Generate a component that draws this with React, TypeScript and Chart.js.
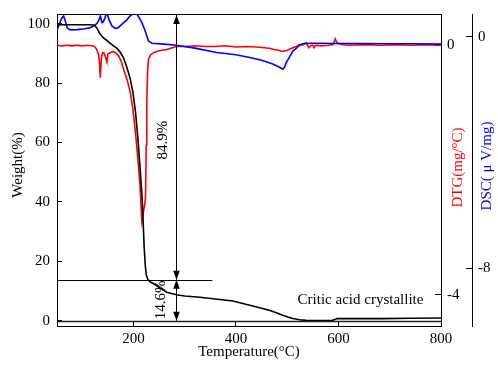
import React, { useEffect, useRef } from 'react';
import { Chart, registerables } from 'chart.js';

Chart.register(...registerables);

// ---- Data ----
const weightT = [51, 80, 110, 122, 126, 130, 135, 141, 148, 155, 162, 168, 174, 180, 185, 190, 194, 199, 204, 209, 213, 216, 218, 219.5, 221, 223, 225, 228, 233, 239, 250, 265, 284, 300, 330, 360, 394, 427, 450, 465, 480, 491, 501, 511, 524, 537, 560, 588, 593, 597, 620, 685, 740, 800];
const weightV = [99.7, 99.7, 99.7, 99.6, 99.2, 98.2, 96.6, 95.3, 94.4, 93.4, 92.5, 91.7, 90.5, 88.8, 86.5, 83.8, 81.3, 77.0, 70.5, 61.0, 51.7, 44.0, 38.0, 31.0, 24.8, 19.0, 15.5, 13.9, 13.0, 12.5, 11.2, 9.6, 8.7, 8.3, 7.9, 7.3, 6.6, 5.2, 4.2, 3.5, 2.6, 1.8, 1.2, 0.7, 0.3, 0.1, 0.05, 0.1, 0.4, 0.7, 0.7, 0.7, 0.8, 0.9];

const dtgT = [51, 60, 70, 80, 90, 100, 110, 118, 124, 128, 132, 134, 135.5, 137.5, 140, 143, 146, 148.5, 150, 155, 160, 165, 171, 176, 181, 188, 194, 199, 204, 208, 213, 216.5, 218, 220, 222, 223.6, 225, 226.2, 227.5, 229.4, 233, 239, 250, 265, 284, 300, 320, 340, 360, 380, 400, 420, 440, 455, 465, 475, 483, 491, 500, 511, 518, 524, 530, 537, 542, 547, 550, 552, 556, 565, 580, 590, 593.7, 597, 605, 620, 650, 680, 710, 740, 770, 800];
const dtgV = [0.0, -0.01, 0.0, -0.01, 0.0, -0.01, 0.0, -0.01, -0.02, -0.06, -0.15, -0.3, -0.52, -0.2, -0.12, -0.13, -0.2, -0.27, -0.14, -0.12, -0.1, -0.12, -0.17, -0.25, -0.39, -0.56, -0.76, -1.02, -1.4, -1.75, -2.26, -2.82, -2.75, -2.65, -2.55, -2.45, -1.6, -0.87, -0.45, -0.23, -0.16, -0.12, -0.09, -0.07, -0.02, -0.02, -0.01, -0.02, -0.02, -0.01, -0.03, -0.02, -0.03, -0.04, -0.05, -0.07, -0.08, -0.1, -0.08, -0.04, -0.02, 0.01, 0.0, 0.04, -0.04, 0.0, 0.0, -0.04, 0.0, -0.01, 0.0, 0.01, 0.1, 0.04, 0.01, 0.0, 0.01, 0.0, 0.01, 0.0, 0.01, 0.0];

const dscT = [51, 57, 61, 64, 67, 71, 77, 90, 105, 115, 122.5, 128, 132, 135.5, 138.7, 141, 144, 147, 149, 152, 158, 164.6, 170, 174, 181, 187, 193, 200, 206, 211, 216.5, 220, 223, 226, 229.5, 236, 260, 284, 320, 362, 400, 427, 450, 472, 484, 491.5, 495, 498, 503, 511, 517, 524, 530, 545, 560, 600, 650, 700, 750, 800];
const dscV = [0.22, 0.5, 0.65, 0.71, 0.55, 0.3, 0.23, 0.24, 0.27, 0.3, 0.37, 0.44, 0.54, 0.71, 0.48, 0.5, 0.62, 0.77, 0.8, 0.6, 0.37, 0.28, 0.3, 0.37, 0.48, 0.57, 0.7, 0.8, 0.8, 0.66, 0.48, 0.33, 0.19, 0.03, -0.15, -0.23, -0.26, -0.3, -0.4, -0.55, -0.63, -0.72, -0.82, -0.95, -1.05, -1.13, -1.05, -0.9, -0.75, -0.5, -0.42, -0.3, -0.25, -0.23, -0.23, -0.24, -0.24, -0.25, -0.25, -0.26];

const xTicks = [200, 400, 600, 800];
const weightTicks = [0, 20, 40, 60, 80, 100];
const dtgTicks = [-4, 0];
const dscTicks = [-8, 0];

const xRange = [51, 800];
const weightRange = [-1.8, 103.3];
const dtgRange = [-4.5, 0.5];
const dscRange = [-10, 0.78];

// reference lines (weight units)
const refLineX1 = [51, 51];
const refLineX2 = [800, 354];
const refLineY = [0, 13.8];

// double arrows at one temperature (weight units)
const arrowX = 284;
const arrowFrom = [13.8, 0];
const arrowTo = [103, 13.8];

// annotation texts
const noteText = ['84.9%', '14.6%', 'Critic acid crystallite'];
const noteX = [258.5, 253.6, 643];
const noteY = [60.8, 7.0, 7.0];
const noteRot = [-90, -90, 0];

const FONT = "'Liberation Serif', 'Times New Roman', serif";

function pts(t: number[], v: number[]) {
  return t.map((x, i) => ({ x, y: v[i] }));
}

function fixSize(w?: number, h?: number) {
  return (scale: any) => {
    if (w !== undefined) scale.width = w;
    if (h !== undefined) scale.height = h;
    scale.paddingTop = 0;
    scale.paddingBottom = 0;
    scale.paddingLeft = 0;
    scale.paddingRight = 0;
  };
}

function setTicks(vals: number[]) {
  return (scale: any) => {
    scale.ticks = vals.map((v) => ({ value: v }));
  };
}

const annotationPlugin = {
  id: 'annotations',
  afterDatasetsDraw(chart: any) {
    const { ctx, scales } = chart;
    const xs = scales.x;
    const ys = scales.y;
    ctx.save();
    ctx.strokeStyle = '#000';
    ctx.fillStyle = '#000';
    // reference lines
    for (let i = 0; i < refLineY.length; i++) {
      const py = Math.round(ys.getPixelForValue(refLineY[i])) + 0.5;
      ctx.lineWidth = i === 0 ? 1.5 : 1;
      ctx.strokeStyle = i === 0 ? '#222' : '#000';
      ctx.beginPath();
      ctx.moveTo(xs.getPixelForValue(refLineX1[i]), py);
      ctx.lineTo(xs.getPixelForValue(refLineX2[i]), py);
      ctx.stroke();
    }
    // double arrows
    ctx.strokeStyle = '#000';
    ctx.lineWidth = 1;
    const ax = Math.round(xs.getPixelForValue(arrowX)) + 0.5;
    const head = (tipY: number, dir: number) => {
      ctx.beginPath();
      ctx.moveTo(ax, tipY);
      ctx.lineTo(ax - 3.3, tipY + dir * 9);
      ctx.lineTo(ax + 3.3, tipY + dir * 9);
      ctx.closePath();
      ctx.fill();
    };
    for (let i = 0; i < arrowFrom.length; i++) {
      const pLow = ys.getPixelForValue(arrowFrom[i]);
      const pHigh = ys.getPixelForValue(arrowTo[i]);
      ctx.beginPath();
      ctx.moveTo(ax, pLow);
      ctx.lineTo(ax, pHigh);
      ctx.stroke();
      head(pHigh, 1); // pointing up
      head(pLow, -1); // pointing down
    }
    // texts
    ctx.font = `15px ${FONT}`;
    ctx.textAlign = 'center';
    ctx.textBaseline = 'middle';
    for (let i = 0; i < noteText.length; i++) {
      const px = xs.getPixelForValue(noteX[i]);
      const py = ys.getPixelForValue(noteY[i]);
      ctx.save();
      ctx.translate(px, py);
      ctx.rotate((noteRot[i] * Math.PI) / 180);
      ctx.fillText(noteText[i], 0, 0);
      ctx.restore();
    }
    ctx.restore();
  },
  afterDraw(chart: any) {
    const { ctx } = chart;
    const titles = [
      { text: 'Weight(%)', x: 18.2, y: 165, color: '#000' },
      { text: 'DTG(mg/°C)', x: 458, y: 167.5, color: '#ff0000' },
      { text: 'DSC( μ V/mg)', x: 487.5, y: 166, color: '#0000ff' },
    ];
    ctx.save();
    ctx.font = `15px ${FONT}`;
    ctx.textAlign = 'center';
    ctx.textBaseline = 'middle';
    for (const t of titles) {
      ctx.save();
      ctx.translate(t.x, t.y);
      ctx.rotate(-Math.PI / 2);
      ctx.fillStyle = t.color;
      ctx.fillText(t.text, 0, 0);
      ctx.restore();
    }
    ctx.restore();
  },
};

export default function App() {
  const ref = useRef<HTMLCanvasElement>(null);

  useEffect(() => {
    if (!ref.current) return;
    Chart.defaults.font.family = FONT;
    Chart.defaults.font.size = 15;
    Chart.defaults.color = '#000';

    const chart = new Chart(ref.current, {
      type: 'line',
      data: {
        datasets: [
          {
            label: 'Weight',
            data: pts(weightT, weightV),
            borderColor: '#000000',
            borderWidth: 1.6,
            pointRadius: 0,
            yAxisID: 'y',
            xAxisID: 'x',
          },
          {
            label: 'DSC',
            data: pts(dscT, dscV),
            borderColor: '#0000ff',
            borderWidth: 1.6,
            pointRadius: 0,
            yAxisID: 'yDSC',
            xAxisID: 'x',
          },
          {
            label: 'DTG',
            data: pts(dtgT, dtgV),
            borderColor: '#ff0000',
            borderWidth: 1.6,
            pointRadius: 0,
            yAxisID: 'yDTG',
            xAxisID: 'x',
          },
        ],
      },
      options: {
        responsive: false,
        animation: false,
        parsing: false,
        normalized: true,
        layout: { padding: { top: 14, left: 0, right: 0, bottom: 0 } },
        plugins: { legend: { display: false }, tooltip: { enabled: false } },
        elements: { line: { tension: 0 } },
        scales: {
          x: {
            type: 'linear',
            position: 'bottom',
            min: xRange[0],
            max: xRange[1],
            afterBuildTicks: setTicks(xTicks),
            afterFit: fixSize(undefined, 41),
            ticks: { padding: 9, color: '#000', font: { size: 15, family: FONT } },
            grid: { display: true, drawOnChartArea: false, drawTicks: true, tickLength: -5, color: '#000' },
            border: { display: true, color: '#000', width: 1 },
            title: {
              display: true,
              text: 'Temperature(°C)',
              color: '#000',
              font: { size: 15, family: FONT },
              padding: { top: 0, bottom: 6.4 },
            },
          },
          xTop: {
            type: 'linear',
            position: 'top',
            min: 0,
            max: 1,
            afterFit: fixSize(undefined, 0),
            ticks: { display: false },
            grid: { display: false, drawTicks: false },
            border: { display: true, color: '#000', width: 1 },
          },
          y: {
            type: 'linear',
            position: 'left',
            min: weightRange[0],
            max: weightRange[1],
            afterBuildTicks: setTicks(weightTicks),
            afterFit: fixSize(57, undefined),
            ticks: { padding: 12, color: '#000', font: { size: 15, family: FONT } },
            grid: { display: true, drawOnChartArea: false, drawTicks: true, tickLength: -5, color: '#000' },
            border: { display: true, color: '#000', width: 1 },
          },
          yDTG: {
            type: 'linear',
            position: 'right',
            weight: 0,
            min: dtgRange[0],
            max: dtgRange[1],
            afterBuildTicks: setTicks(dtgTicks),
            afterFit: fixSize(31, undefined),
            ticks: { padding: 12, color: '#000', font: { size: 15, family: FONT } },
            grid: { display: true, drawOnChartArea: false, drawTicks: true, tickLength: -6, color: '#000' },
            border: { display: true, color: '#000', width: 1 },
          },
          yDSC: {
            type: 'linear',
            position: 'right',
            weight: 1,
            min: dscRange[0],
            max: dscRange[1],
            afterBuildTicks: setTicks(dscTicks),
            afterFit: fixSize(26, undefined),
            ticks: { padding: 12, color: '#000', font: { size: 15, family: FONT } },
            grid: { display: true, drawOnChartArea: false, drawTicks: true, tickLength: -6, color: '#000' },
            border: { display: true, color: '#000', width: 1 },
          },
        },
      } as any,
      plugins: [annotationPlugin],
    });

    return () => chart.destroy();
  }, []);

  return (
    <div style={{ position: 'fixed', left: 0, top: 0, width: 498, height: 367, background: '#fff' }}>
      <canvas ref={ref} width={498} height={367} style={{ display: 'block' }} />
    </div>
  );
}
